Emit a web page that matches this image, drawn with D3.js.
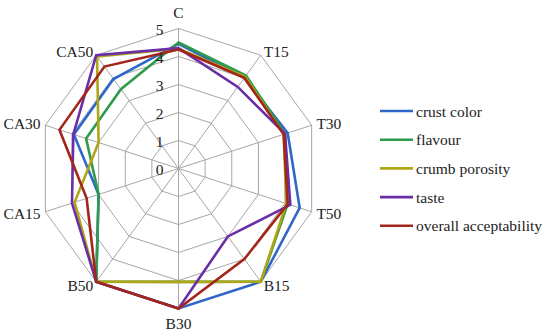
<!DOCTYPE html>
<html><head><meta charset="utf-8">
<script src="https://cdn.jsdelivr.net/npm/d3@7"></script>
<style>body{margin:0;background:#fff}svg{display:block}text{font-family:"Liberation Serif","Times New Roman",serif;fill:#222}</style>
</head><body><svg id="c" width="550" height="333"></svg>
<script>
const categories = ["C","T15","T30","T50","B15","B30","B50","CA15","CA30","CA50"];
const tickLabels = [0,1,2,3,4,5];
const seriesNames = ["crust color","flavour","crumb porosity","taste","overall acceptability"];
const crustColor = [4.45,4.0,4.1,4.55,5,5,5,3.0,3.93,3.95];
const flavour = [4.5,4.1,4.0,4.1,5,4.05,5,3.0,3.47,3.5];
const crumbPorosity = [4.28,4.05,3.95,4.05,5,4.05,5,3.9,3.0,4.95];
const taste = [4.3,3.6,4.0,4.2,3.0,5,5,4.0,3.95,5];
const overallAcceptability = [4.25,4.0,3.95,4.1,4.0,5,5,3.45,4.47,4.5];
const seriesColors = ["#2f66c8","#2e9a4c","#b0a514","#6a2ea6","#a3261a"];

const series = [crustColor,flavour,crumbPorosity,taste,overallAcceptability];
const svg = d3.select("#c");
const cx = 178.5, cy = 168.5, R = 140;
const r = d3.scaleLinear().domain([0,5]).range([0,R]);
const ang = d3.scaleLinear().domain([0,categories.length]).range([0,2*Math.PI]);
const g = svg.append("g").attr("transform",`translate(${cx},${cy})`);

// grid rings
const ringLine = d3.lineRadial().angle((d,i)=>ang(i)).radius(d=>r(d)).curve(d3.curveLinearClosed);
tickLabels.slice(1).forEach(t=>{
  g.append("path").attr("d",ringLine(categories.map(()=>t))).attr("fill","none").attr("stroke","#a6a6a6").attr("stroke-width",1);
});
categories.forEach((c,i)=>{
  const a = ang(i);
  g.append("line").attr("x1",0).attr("y1",0).attr("x2",Math.sin(a)*R).attr("y2",-Math.cos(a)*R)
    .attr("stroke","#a6a6a6").attr("stroke-width",1);
});

// series
const line = d3.lineRadial().angle((d,i)=>ang(i)).radius(d=>r(d)).curve(d3.curveLinearClosed);
series.forEach((s,k)=>{
  g.append("path").attr("d",line(s)).attr("fill","none").attr("stroke",seriesColors[k])
    .attr("stroke-width",2.6).attr("stroke-linejoin","miter");
});

// tick labels
tickLabels.forEach(t=>{
  g.append("text").attr("x",-15).attr("y",-r(t)+1).attr("text-anchor","end")
    .attr("dominant-baseline","central").attr("font-size",15.5).text(t);
});

// axis labels
categories.forEach((c,i)=>{
  const a = ang(i);
  const s = Math.sin(a), co = Math.cos(a);
  let d = 5, anchor;
  if (Math.abs(s) < 0.01) { anchor = "middle"; d = co>0 ? 16.5 : 15; }
  else anchor = s>0 ? "start" : "end";
  g.append("text").attr("x",s*(R+d)).attr("y",-co*(R+d)).attr("text-anchor",anchor)
    .attr("dominant-baseline","central").attr("font-size",15.5).text(c);
});

// legend
const lg = svg.append("g");
seriesNames.forEach((n,k)=>{
  const y = 111 + k*28.7;
  lg.append("line").attr("x1",380).attr("x2",413).attr("y1",y).attr("y2",y)
    .attr("stroke",seriesColors[k]).attr("stroke-width",2.6);
  lg.append("text").attr("x",416).attr("y",y).attr("dominant-baseline","central")
    .attr("font-size",15.5).text(n);
});
</script></body></html>
